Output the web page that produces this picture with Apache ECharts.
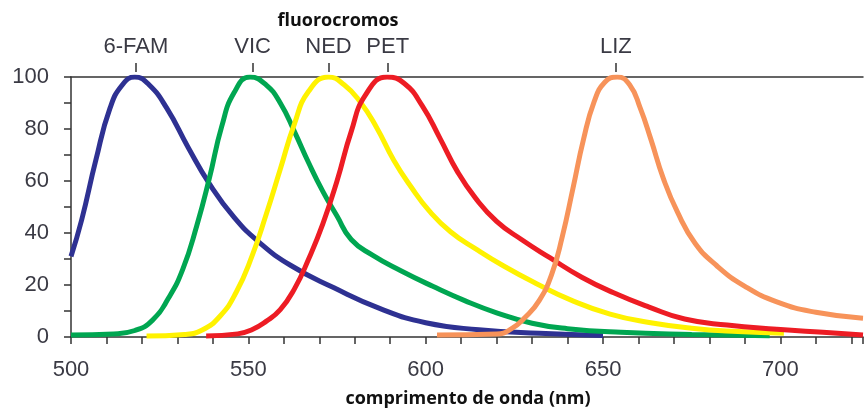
<!DOCTYPE html>
<html>
<head>
<meta charset="utf-8">
<script src="https://cdn.jsdelivr.net/npm/echarts@6/dist/echarts.min.js"></script>
<style>html,body{margin:0;padding:0;background:#fff}#c{width:866px;height:410px}</style>
</head>
<body>
<div id="c"></div>
<script>
// Tick labels / names
const dyeNames = ['6-FAM', 'VIC', 'NED', 'PET', 'LIZ'];
const dyePeaks = [518.3, 551.2, 572.6, 589.3, 653.6];
const xTitle = 'comprimento de onda (nm)';
const topTitle = 'fluorocromos';

// Emission curves [wavelength nm, relative intensity]
const fam = [[500,31],[503,45],[507,68],[511,88],[514.5,97],[518,100],[522,97],[527,88],[533,73],[539,59],[546,46],[553,36.5],[562,27.5],[574,19],[587,11],[600,5.5],[615,2.8],[632,1.4],[650,0.6]];
const vic = [[500,0.8],[512,1.2],[518,2.5],[523,6.5],[527.5,15],[531.5,26],[535.5,43],[539,61],[542.5,81],[546,94],[550.5,100],[555,97],[559,90],[563,79],[567,67],[571,56],[575,46.5],[579,37.5],[585,31.5],[593,25.5],[602,19.5],[611,14],[620,9.3],[630,5.3],[640,3.2],[655,1.8],[675,1],[697,0.5]];
const ned = [[521.3,0.4],[532,1],[537,2.7],[542,8],[546.5,17],[551,31],[555,47],[559,64.5],[563,82],[567,94.5],[572.6,100],[577,97],[581.5,90.5],[586,81],[591,68],[596,57.5],[601,48.5],[607,40.5],[614,34],[622,27.3],[631,20.7],[641,14.2],[652,8.8],[663,5.6],[675,3.4],[688,2.1],[701,1.4]];
const pet = [[538.1,0.4],[547,1.2],[551,2.8],[555,6],[559,10.5],[563,18.5],[567,30],[571,43.5],[575,60],[579,79],[583,93],[589.1,100],[594,97.5],[599,89],[604,76.5],[609,63.5],[614,53.5],[620,44.5],[627,37.5],[635,30.5],[644,23],[653,17],[663,11.5],[673,6.9],[685,4.6],[699,3],[712,1.8],[723.3,0.8]];
const liz = [[603.2,0.8],[620,1.2],[624,3],[628,7.5],[632,14],[635.5,24],[638.5,38.5],[641.5,57],[644.5,76],[647.5,90.5],[650.5,98],[654,100],[657.5,97],[660.5,88],[663.5,76],[667,61],[671,48],[676,36],[682,27.5],[690,19.5],[699,13.5],[710,9.5],[723.3,7.2]];

const seriesData = [fam, vic, ned, pet, liz];
const colors = ['#2E3192', '#00A651', '#FFF200', '#ED1C24', '#F7935A'];

const axisColor = '#333';
const labelFont = { fontFamily: 'Liberation Sans', fontSize: 22, color: '#3a3a44' };

const chart = echarts.init(document.getElementById('c'));
chart.setOption({
  animation: false,
  grid: { left: 71, right: 0, top: 77, bottom: 73 },
  graphic: [{
    type: 'text', x: 338, y: 21,
    style: { text: topTitle, fontFamily: 'Open Sans', fontWeight: 'bold', fontSize: 18, fill: '#111', textAlign: 'center', textVerticalAlign: 'middle' }
  }, {
    type: 'text', x: 468, y: 399,
    style: { text: xTitle, fontFamily: 'Open Sans', fontWeight: 'bold', fontSize: 18, fill: '#111', textAlign: 'center', textVerticalAlign: 'middle' }
  }],
  xAxis: [{
    type: 'value', min: 500, max: 723.3, interval: 10,
    axisLine: { show: true, lineStyle: { color: axisColor, width: 1.5 } },
    axisTick: { show: true, length: 7, lineStyle: { color: axisColor, width: 1.5 } },
    axisLabel: Object.assign({ margin: 22, formatter: v => (v % 50 === 0 ? String(v) : '') }, labelFont),
    splitLine: { show: false }
  }, {
    type: 'value', min: 500, max: 723.3, position: 'top', offset: 5,
    axisLine: { show: false },
    axisTick: { show: true, length: 9, customValues: dyePeaks, lineStyle: { color: axisColor, width: 1.5 } },
    axisLabel: Object.assign({ margin: 14, customValues: dyePeaks, formatter: v => dyeNames[dyePeaks.indexOf(v)] }, labelFont),
    splitLine: { show: false }
  }, {
    type: 'value', min: 500, max: 723.3, position: 'top', offset: 0,
    axisLine: { show: true, lineStyle: { color: axisColor, width: 1.5 } },
    axisTick: { show: false }, axisLabel: { show: false }, splitLine: { show: false }
  }],
  yAxis: {
    type: 'value', min: 0, max: 100, interval: 10,
    axisLine: { show: true, lineStyle: { color: axisColor, width: 1.5 } },
    axisTick: { show: true, length: 7, lineStyle: { color: axisColor, width: 1.5 } },
    axisLabel: Object.assign({ margin: 22, formatter: v => (v % 20 === 0 ? String(v) : '') }, labelFont),
    splitLine: { show: false }
  },
  series: seriesData.map((d, i) => ({
    type: 'line', name: dyeNames[i], data: d, xAxisIndex: 0,
    smooth: 0.5, symbol: 'none',
    lineStyle: { color: colors[i], width: 5 }
  }))
});
</script>
</body>
</html>
